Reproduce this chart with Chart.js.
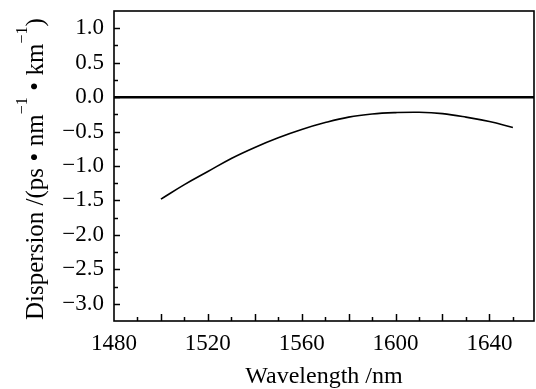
<!DOCTYPE html>
<html>
<head>
<meta charset="utf-8">
<script src="https://cdn.jsdelivr.net/npm/chart.js@4/dist/chart.umd.min.js"></script>
<style>
  html, body { margin: 0; padding: 0; background: #fff; }
  #wrap { width: 536px; height: 389px; }
</style>
</head>
<body>
<div id="wrap"><canvas id="chartDispersion"></canvas></div>
<script>
// data
const wavelength = [1500, 1510, 1520, 1530, 1540, 1550, 1560, 1570, 1580, 1590, 1600, 1610, 1620, 1630, 1640, 1650];
const dispersion = [-1.48, -1.27, -1.08, -0.89, -0.73, -0.59, -0.47, -0.37, -0.29, -0.245, -0.225, -0.22, -0.24, -0.29, -0.355, -0.44];
const xTicks = [1480, 1520, 1560, 1600, 1640];
const yTicks = [-3.0, -2.5, -2.0, -1.5, -1.0, -0.5, 0.0, 0.5, 1.0];

const FONT = "'Liberation Serif', 'Times New Roman', serif";

const noPad = s => { s.paddingTop = 0; s.paddingBottom = 0; s.paddingLeft = 0; s.paddingRight = 0; };

// inward tick marks, frame, and the y title with superscripts
const frameTicks = {
    id: 'frameTicks',
    afterDraw(chart) {
        const { ctx, chartArea: a, scales: { x, y } } = chart;
        ctx.save();
        ctx.strokeStyle = '#000';
        ctx.lineWidth = 1.5;
        for (let v = 1490; v < x.max; v += 10) {
            const px = Math.round(x.getPixelForValue(v)) + 0.5;
            const len = v % 20 === 0 ? 7 : 4;
            ctx.beginPath();
            ctx.moveTo(px, a.bottom);
            ctx.lineTo(px, a.bottom - len);
            ctx.stroke();
        }
        for (let v = -3.0; v <= 1.0001; v += 0.25) {
            const py = Math.round(y.getPixelForValue(v)) + 0.5;
            const len = Math.abs(v * 2 - Math.round(v * 2)) < 1e-6 ? 6 : 4;
            ctx.beginPath();
            ctx.moveTo(a.left, py);
            ctx.lineTo(a.left + len, py);
            ctx.stroke();
        }
        ctx.lineWidth = 1.6;
        ctx.strokeRect(a.left, a.top, a.right - a.left, a.bottom - a.top);

        ctx.fillStyle = '#000';
        ctx.translate(43, a.bottom - 1);
        ctx.rotate(-Math.PI / 2);
        ctx.textBaseline = 'alphabetic';
        ctx.textAlign = 'left';
        const main = '25px ' + FONT, sup = '16px ' + FONT, gap = 6.5;
        const parts = [
            ['Dispersion /(ps', main, 0, gap],
            ['\u2022', main, 0, gap],
            ['nm', main, 0, 0],
            ['\u22121', sup, -16, gap],
            ['\u2022', main, 0, gap],
            ['km', main, 0, 0],
            ['\u22121', sup, -16, 0],
            [')', main, 0, 0]
        ];
        let u = 0;
        parts.forEach(([t, f, dv, g]) => {
            ctx.font = f;
            ctx.fillText(t, u, dv);
            u += ctx.measureText(t).width + g;
        });
        ctx.restore();
    }
};

new Chart(document.getElementById('chartDispersion').getContext('2d'), {
    type: 'line',
    data: {
        datasets: [{
            data: wavelength.map((w, i) => ({ x: w, y: dispersion[i] })),
            borderColor: '#000',
            borderWidth: 1.6,
            pointRadius: 0,
            tension: 0.4,
            fill: false
        }]
    },
    options: {
        responsive: true,
        maintainAspectRatio: false,
        animation: false,
        layout: { padding: { left: 0, right: 2, top: 11, bottom: 0 } },
        plugins: { legend: { display: false }, tooltip: { enabled: false } },
        scales: {
            x: {
                type: 'linear',
                min: 1480,
                max: 1659,
                afterBuildTicks: s => { s.ticks = xTicks.map(v => ({ value: v })); },
                afterFit: s => { s.height = 68; noPad(s); },
                grid: { display: false, drawTicks: false },
                border: { display: false },
                ticks: {
                    color: '#000', padding: 9, maxRotation: 0,
                    font: { family: FONT, size: 23 },
                    callback: v => String(v)
                },
                title: {
                    display: true,
                    text: 'Wavelength /nm',
                    color: '#000',
                    padding: { top: 0, bottom: 0 },
                    font: { family: FONT, size: 24, lineHeight: 1 }
                }
            },
            y: {
                min: -3.25,
                max: 1.25,
                afterBuildTicks: s => { s.ticks = yTicks.map(v => ({ value: v })); },
                afterFit: s => { s.width = 114; noPad(s); },
                grid: {
                    drawTicks: false,
                    color: c => (c.tick && c.tick.value === 0 ? '#000' : 'rgba(0,0,0,0)'),
                    lineWidth: c => (c.tick && c.tick.value === 0 ? 2.5 : 0)
                },
                border: { display: false },
                ticks: {
                    color: '#000',
                    padding: 10,
                    font: { family: FONT, size: 23 },
                    callback: v => v.toFixed(1).replace('-', '\u2212')
                }
            }
        }
    },
    plugins: [frameTicks]
});
</script>
</body>
</html>
